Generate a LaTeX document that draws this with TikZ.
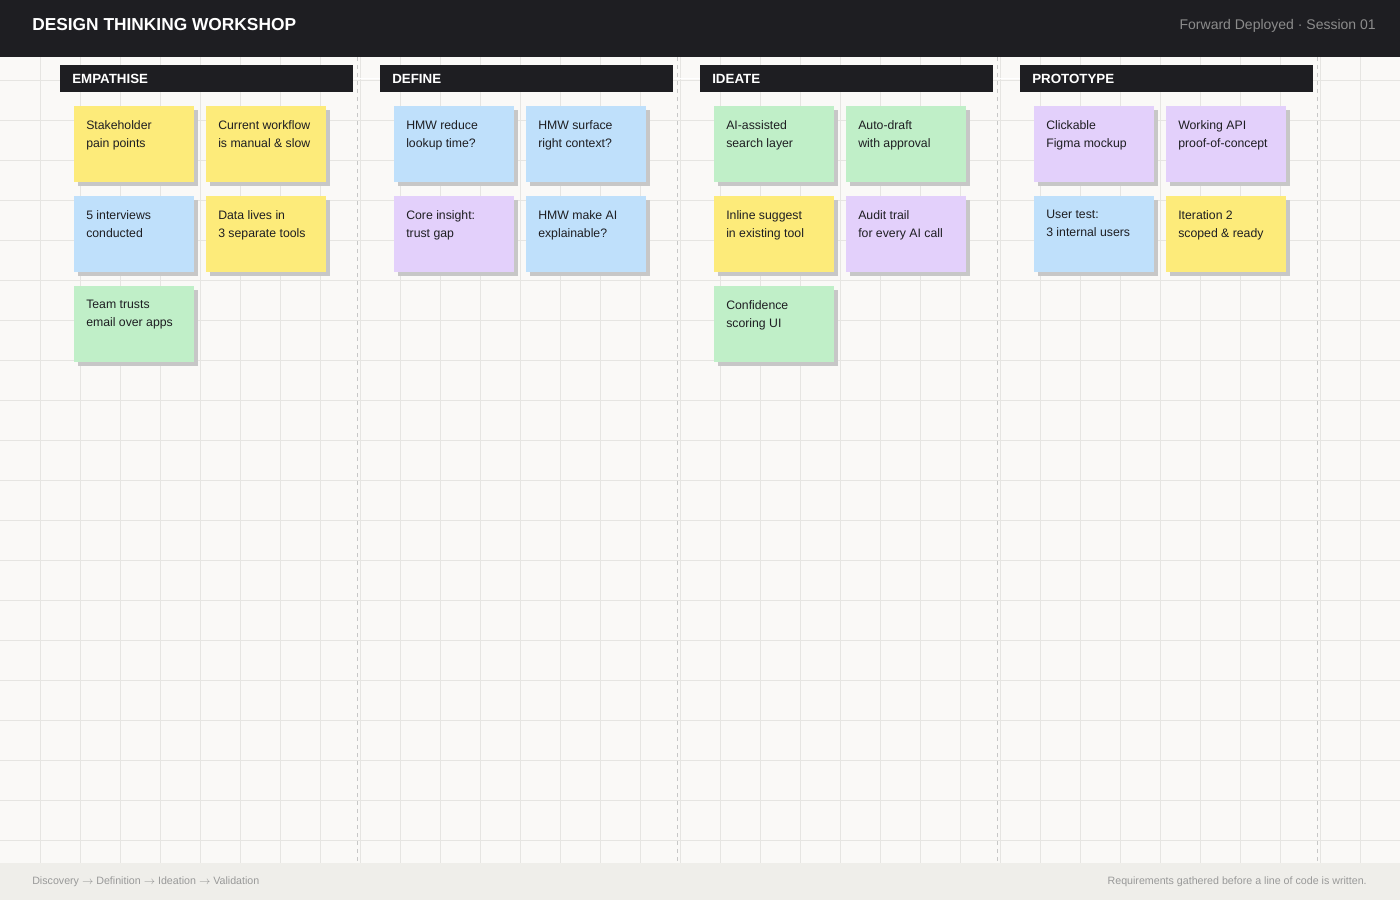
\documentclass[tikz,border=0pt]{standalone}
\usepackage{fontspec}
\setmainfont{Liberation Sans}
\usetikzlibrary{positioning}
\definecolor{ink}{HTML}{1E1E22}
\definecolor{paper}{HTML}{FAF9F7}
\definecolor{gridc}{HTML}{E6E5E2}
\definecolor{foot}{HTML}{EFEEEA}
\definecolor{yel}{HTML}{FDEB7A}
\definecolor{blu}{HTML}{BFE0FB}
\definecolor{grn}{HTML}{C0EFC8}
\definecolor{pur}{HTML}{E3D0FB}
\tikzset{
  phase/.style={anchor=north west,fill=ink,minimum height=20.25pt,inner ysep=0pt,
    inner xsep=9pt,text width=201.75pt,align=left,text=white,
    font=\bfseries\fontsize{10}{12}\selectfont}
}
\newcommand{\note}[5]{% name, x, y, colour, text
  \fill[black!22] (#2+4,#3+4) rectangle ++(120,76);
  \fill[#4] (#2,#3) rectangle ++(120,76);
  \node (#1) [anchor=north west,align=left,inner sep=0pt,font=\fontsize{9.2}{13.5}\selectfont,text=ink]
    at (#2+12,#3+14) {#5};}
\begin{document}
\begin{tikzpicture}[x=0.75pt,y=-0.75pt]
  \useasboundingbox (0,0) rectangle (1400,900);
  \fill[paper] (0,0) rectangle (1400,900);
  % grid
  \foreach \x in {40,80,...,1360} \draw[gridc,line width=0.6pt] (\x,57) -- (\x,863);
  \foreach \y in {80,120,...,840} \draw[gridc,line width=0.6pt] (0,\y) -- (1400,\y);
  % top bar and footer
  \fill[ink] (0,0) rectangle (1400,57);
  \fill[foot] (0,863) rectangle (1400,900);
  \node (title) [anchor=west,inner sep=0pt,text=white,font=\bfseries\fontsize{13}{15}\selectfont] at (32,25) {DESIGN THINKING WORKSHOP};
  \node (session) [anchor=east,inner sep=0pt,text=black!45,font=\fontsize{10.5}{12}\selectfont] at (1376,26) {Forward Deployed · Session 01};
  \node (flow) [anchor=west,inner sep=0pt,text=black!40,font=\fontsize{8}{10}\selectfont] at (32,882)
    {Discovery $\rightarrow$ Definition $\rightarrow$ Ideation $\rightarrow$ Validation};
  \node (motto) [anchor=east,inner sep=0pt,text=black!40,font=\fontsize{8}{10}\selectfont] at (1367,882)
    {Requirements gathered before a line of code is written.};
  % lane separators
  \foreach \x in {357,677,997,1317}
    \draw[black!22,dashed,line width=0.6pt] (\x,57) -- (\x,863);
  % phase headers
  \node (empathise) [phase] at (60,65) {EMPATHISE};
  \node (define) [phase] at (380,65) {DEFINE};
  \node (ideate) [phase] at (700,65) {IDEATE};
  \node (prototype) [phase] at (1020,65) {PROTOTYPE};
  \draw[white,line width=0.8pt] (empathise.east) -- (define.west);
  \draw[white,line width=0.8pt] (define.east) -- (ideate.west);
  \draw[white,line width=0.8pt] (ideate.east) -- (prototype.west);
  % notes
  \note{s1}{74}{106}{yel}{Stakeholder\\pain points}
  \note{s2}{206}{106}{yel}{Current workflow\\is manual \& slow}
  \note{s3}{74}{196}{blu}{5 interviews\\conducted}
  \note{s4}{206}{196}{yel}{Data lives in\\3 separate tools}
  \note{s5}{74}{286}{grn}{Team trusts\\email over apps}
  \note{d1}{394}{106}{blu}{HMW reduce\\lookup time?}
  \note{d2}{526}{106}{blu}{HMW surface\\right context?}
  \note{d3}{394}{196}{pur}{Core insight:\\trust gap}
  \note{d4}{526}{196}{blu}{HMW make AI\\explainable?}
  \note{i1}{714}{106}{grn}{AI-assisted\\search layer}
  \note{i2}{846}{106}{grn}{Auto-draft\\with approval}
  \note{i3}{714}{196}{yel}{Inline suggest\\in existing tool}
  \note{i4}{846}{196}{pur}{Audit trail\\for every AI call}
  \note{i5}{714}{286}{grn}{Confidence\\scoring UI}
  \note{p1}{1034}{106}{pur}{Clickable\\Figma mockup}
  \note{p2}{1166}{106}{pur}{Working API\\proof-of-concept}
  \note{p3}{1034}{196}{blu}{User test:\\3 internal users}
  \note{p4}{1166}{196}{yel}{Iteration 2\\scoped \& ready}
\end{tikzpicture}
\end{document}
